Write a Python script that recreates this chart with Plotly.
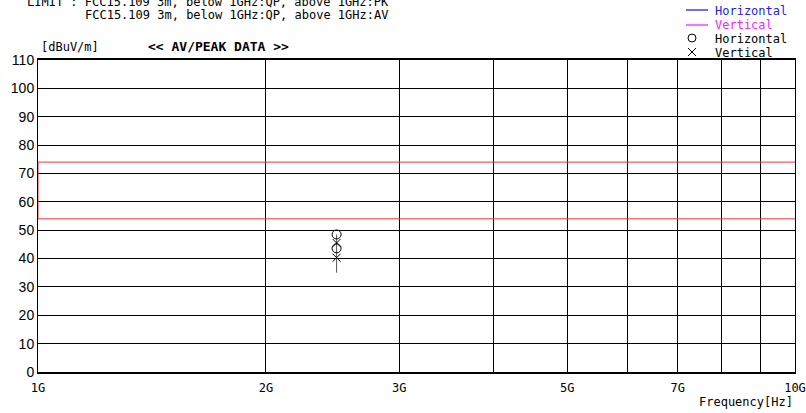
import plotly.graph_objects as go

# ---- data -------------------------------------------------------------
# frequency axis ticks (Hz) and their labels
tick_freqs = [1e9, 2e9, 3e9, 4e9, 5e9, 6e9, 7e9, 8e9, 9e9, 10e9]
tick_labels = ["1G", "2G", "3G", "", "5G", "", "7G", "", "", "10G"]

# FCC15.109 limits above 1 GHz (dBuV/m)
limit_freqs = [10e9, 1e9, 1e9, 10e9]
limit_levels = [74, 74, 54, 54]

# measured AV/PEAK points
meas_freq = 2.48e9
horiz_levels = [48.5, 43.6]
vert_levels = [45.5, 40.3]
span_levels = [35.0, 48.5]

W, H = 806, 413
L, R, T, B = 38, 11, 60, 41
PW, PH = W - L - R, H - T - B


def px(x):
    return (x - L) / PW


def py(y):
    return (H - B - y) / PH


mono = "DejaVu Sans Mono"

fig = go.Figure()

fig.add_trace(go.Scatter(
    x=limit_freqs, y=limit_levels, mode="lines",
    line=dict(color="#ff3030", width=1), hoverinfo="skip", showlegend=False))

fig.add_trace(go.Scatter(
    x=[meas_freq] * len(span_levels), y=span_levels, mode="lines",
    line=dict(color="#555555", width=1), showlegend=False))

fig.add_trace(go.Scatter(
    x=[meas_freq] * len(horiz_levels), y=horiz_levels, mode="markers",
    marker=dict(symbol="circle-open", size=9, color="black", line=dict(width=1)),
    showlegend=False))

fig.add_trace(go.Scatter(
    x=[meas_freq] * len(vert_levels), y=vert_levels, mode="markers",
    marker=dict(symbol="x-thin-open", size=8, color="black", line=dict(width=1)),
    showlegend=False))

annotations = []


def text(s, x, y, anchor="left", size=12, color="black", family=mono):
    annotations.append(dict(
        text=s, x=px(x), y=py(y), xref="paper", yref="paper",
        xanchor=anchor, yanchor="middle", showarrow=False,
        font=dict(family=family, size=size, color=color)))


text("LIMIT : FCC15.109 3m, below 1GHz:QP, above 1GHz:PK", 25, 2)
text("FCC15.109 3m, below 1GHz:QP, above 1GHz:AV", 83, 15)
text("[dBuV/m]", 39, 47)
text("<b>&lt;&lt; AV/PEAK DATA &gt;&gt;</b>", 146, 47, size=13)
text("Frequency[Hz]", 795, 402, anchor="right")

# legend block
text("Horizontal", 713, 11, color="#2020ff")
text("Vertical", 713, 25, color="#ff20ff")
text("Horizontal", 713, 39)
text("Vertical", 713, 53)

shapes = [
    dict(type="line", xref="paper", yref="paper", x0=px(686), x1=px(708),
         y0=py(10), y1=py(10), line=dict(color="#4040ff", width=1.5)),
    dict(type="line", xref="paper", yref="paper", x0=px(686), x1=px(708),
         y0=py(25), y1=py(25), line=dict(color="#ff40ff", width=1.5)),
    dict(type="circle", xref="paper", yref="paper", xsizemode="pixel", ysizemode="pixel",
         xanchor=px(692), yanchor=py(38), x0=-4, x1=4, y0=-4, y1=4,
         line=dict(color="black", width=1)),
    dict(type="line", xref="paper", yref="paper", xsizemode="pixel", ysizemode="pixel",
         xanchor=px(692), yanchor=py(52), x0=-4, x1=4, y0=-4, y1=4,
         line=dict(color="black", width=1)),
    dict(type="line", xref="paper", yref="paper", xsizemode="pixel", ysizemode="pixel",
         xanchor=px(692), yanchor=py(52), x0=-4, x1=4, y0=4, y1=-4,
         line=dict(color="black", width=1)),
]

fig.update_layout(
    width=W, height=H,
    margin=dict(l=L, r=R, t=T, b=B, pad=0, autoexpand=False),
    paper_bgcolor="white", plot_bgcolor="white",
    annotations=annotations, shapes=shapes,
    showlegend=False,
)

fig.update_xaxes(
    type="log", range=[9, 10], automargin=False,
    tickvals=tick_freqs, ticktext=tick_labels, ticks="",
    ticklabelstandoff=4,
    showgrid=True, gridcolor="black", gridwidth=1,
    showline=True, mirror=True, linecolor="black", linewidth=2,
    zeroline=False,
    tickfont=dict(family=mono, size=12, color="black"),
)
fig.update_yaxes(
    range=[0, 110], dtick=10, ticks="", automargin=False,
    showgrid=True, gridcolor="black", gridwidth=1,
    showline=True, mirror=True, linecolor="black", linewidth=1,
    zeroline=False,
    tickfont=dict(family="Liberation Sans", size=14, color="black"),
)

fig.write_html("out.html")
